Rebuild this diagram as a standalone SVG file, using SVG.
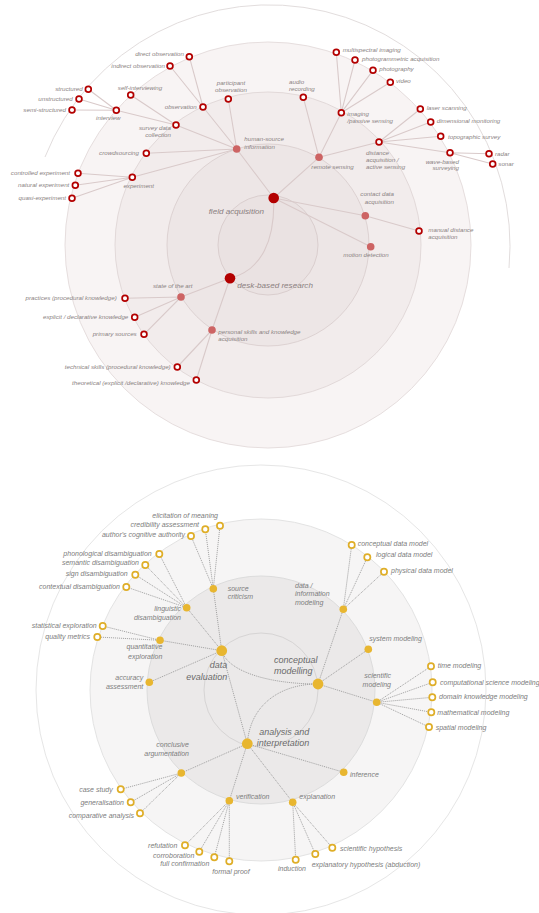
<svg xmlns="http://www.w3.org/2000/svg" width="539" height="913" viewBox="0 0 539 913">
<style>
text{font-family:"Liberation Sans",Arial,sans-serif;font-style:italic}
.t{font-size:6.2px;fill:#8a8282}
.tm{font-size:8.1px;fill:#8a8080}
.b{font-size:7px;fill:#7d7d7d}
.bm{font-size:9px;fill:#6a6a6a}
.e{text-anchor:end}
.m{text-anchor:middle}
.ct{stroke:#d9caca;stroke-width:1.1;fill:none}
.cb{stroke:#9c9c9c;stroke-width:0.9;stroke-dasharray:1.1 0.9;fill:none}
.rm{fill:#b30000}
.rs{fill:#cd6464}
.rl{fill:#fff;stroke:#b30000;stroke-width:1.7}
.ym{fill:#e8b630}
.ys{fill:#e8b630}
.yl{fill:#fff;stroke:#dfae28;stroke-width:1.7}
</style>
<rect width="539" height="913" fill="#fff"/>
<g id="rings-top">
<path d="M45,157 A241,241 0 0 1 509,268" fill="none" stroke="#e2dddd" stroke-width="1"/>
<circle cx="268" cy="245" r="203" fill="#f8f4f4" stroke="#e6dede" stroke-width="1"/>
<circle cx="268" cy="245" r="153" fill="#f2ecec" stroke="#e2d9d9" stroke-width="1"/>
<circle cx="268" cy="245" r="101" fill="#ede6e6" stroke="#ddd2d2" stroke-width="1"/>
<circle cx="268" cy="245" r="50" fill="#eae2e2" stroke="#dacece" stroke-width="1"/>
</g>
<g id="rings-bottom">
<circle cx="261" cy="690" r="225" fill="#fff" stroke="#e6e6e6" stroke-width="1"/>
<circle cx="261" cy="690" r="171" fill="#f6f5f5" stroke="#e3e3e3" stroke-width="1"/>
<circle cx="261" cy="690" r="114" fill="#ebe9e9" stroke="#dcdcdc" stroke-width="1"/>
<circle cx="261" cy="690" r="57" fill="none" stroke="#d6d4d4" stroke-width="1"/>
</g>
<g id="connectors-top">
<path class="ct" d="M273.7,198 C275,240 262,270 230,278.3"/>
<path class="ct" d="M273.7,198 L236.7,149 M273.7,198 L319,157.3 M273.7,198 L365.3,215.7 L419,231 M273.7,198 L370.7,246.7"/>
<path class="ct" d="M236.7,149 L203,107 M236.7,149 L228.3,99 M236.7,149 L176,125 M236.7,149 L146.3,153.3 M236.7,149 L132.3,177.3"/>
<path class="ct" d="M203,107 L189.3,56.7 M203,107 L170,66"/>
<path class="ct" d="M176,125 L130.7,95 M176,125 L116.3,110.3"/>
<path class="ct" d="M116.3,110.3 L88.3,89.3 M116.3,110.3 L79,99 M116.3,110.3 L72,110"/>
<path class="ct" d="M132.3,177.3 L78,173.3 M132.3,177.3 L75.3,185.3 M132.3,177.3 L72,198.3"/>
<path class="ct" d="M319,157.3 L303.3,97.3 M319,157.3 L341.3,112.7 M319,157.3 L379,142"/>
<path class="ct" d="M341.3,112.7 L336.3,52.3 M341.3,112.7 L355,60 M341.3,112.7 L373,70.3 M341.3,112.7 L390.3,82.3"/>
<path class="ct" d="M379,142 L420.3,109 M379,142 L430.7,122 M379,142 L440.7,136.3 M379,142 L450,152.7"/>
<path class="ct" d="M450,152.7 L489,153.7 M450,152.7 L492.7,164"/>
<path class="ct" d="M230,278.3 L181,297 M230,278.3 L212,330"/>
<path class="ct" d="M181,297 L125,298.3 M181,297 L134.7,317.3 M181,297 L144,334.3"/>
<path class="ct" d="M212,330 L177.3,367 M212,330 L196.3,380"/>
</g>
<g id="connectors-bottom">
<path class="cb" d="M221.7,650.7 C228,672 270,684 318,684"/>
<path class="cb" d="M318,684 C280,684 250,705 247.3,743.7"/>
<path class="cb" d="M221.7,650.7 L247.3,743.7"/>
<path class="cb" d="M221.7,650.7 L213.3,588.7 M221.7,650.7 L186.7,607.7 M221.7,650.7 L160,640.3 M221.7,650.7 L149.3,682.3"/>
<path class="cb" d="M318,684 L343.3,609.3 M318,684 L368.3,649.3 M318,684 L376.7,702.3"/>
<path class="cb" d="M247.3,743.7 L181.3,773 M247.3,743.7 L229.3,800.7 M247.3,743.7 L292.7,802.3 M247.3,743.7 L343.7,772.3"/>
<path class="cb" d="M213.3,588.7 L220,525.7 M213.3,588.7 L205.3,529.3 M213.3,588.7 L191,536"/>
<path class="cb" d="M186.7,607.7 L159.3,554 M186.7,607.7 L145.3,565 M186.7,607.7 L135.3,574.7 M186.7,607.7 L126.3,587"/>
<path class="cb" d="M160,640.3 L102.7,626 M160,640.3 L97.3,637"/>
<path class="cb" d="M343.3,609.3 L351.7,545 M343.3,609.3 L367.3,557.3 M343.3,609.3 L384,571.7"/>
<path class="cb" d="M376.7,702.3 L431,666.3 M376.7,702.3 L432.7,682.3 M376.7,702.3 L432.3,697.3 M376.7,702.3 L431.3,712.3 M376.7,702.3 L429,727"/>
<path class="cb" d="M181.3,773 L120.7,789.3 M181.3,773 L130.7,802.3 M181.3,773 L140,813.3"/>
<path class="cb" d="M229.3,800.7 L185,845.3 M229.3,800.7 L199.3,851.7 M229.3,800.7 L214.3,857.3 M229.3,800.7 L229.3,861.3"/>
<path class="cb" d="M292.7,802.3 L295.7,859.7 M292.7,802.3 L315.3,854 M292.7,802.3 L332.3,847.7"/>
</g>
<g id="field-acquisition"><circle class="rm" cx="273.7" cy="198" r="5.3"/><text class="tm m" x="236.3" y="213.5">field acquisition</text></g>
<g id="desk-based-research"><circle class="rm" cx="230" cy="278.3" r="5.3"/><text class="tm" x="237.3" y="288">desk-based research</text></g>
<g id="human-source-information"><circle class="rs" cx="236.7" cy="149" r="3.8"/><text class="t" x="244.3" y="141.3">human-source</text><text class="t" x="244.3" y="148.7">information</text></g>
<g id="remote-sensing"><circle class="rs" cx="319" cy="157.3" r="3.8"/><text class="t m" x="332.5" y="168.7">remote sensing</text></g>
<g id="contact-data-acquisition"><circle class="rs" cx="365.3" cy="215.7" r="3.8"/><text class="t e" x="394" y="196">contact data</text><text class="t e" x="394" y="203.7">acquisition</text></g>
<g id="motion-detection"><circle class="rs" cx="370.7" cy="246.7" r="3.8"/><text class="t m" x="366" y="257">motion detection</text></g>
<g id="state-of-the-art"><circle class="rs" cx="181" cy="297" r="3.8"/><text class="t m" x="172.8" y="288">state of the art</text></g>
<g id="personal-skills"><circle class="rs" cx="212" cy="330" r="3.8"/><text class="t" x="218.3" y="334">personal skills and knowledge</text><text class="t" x="218.3" y="341.3">acquisition</text></g>
<g id="observation"><circle class="rl" cx="203" cy="107" r="2.9"/><text class="t e" x="196.7" y="109">observation</text></g>
<g id="direct-observation"><circle class="rl" cx="189.3" cy="56.7" r="2.9"/><text class="t e" x="184" y="56">direct observation</text></g>
<g id="indirect-observation"><circle class="rl" cx="170" cy="66" r="2.9"/><text class="t e" x="165" y="68">indirect observation</text></g>
<g id="participant-observation"><circle class="rl" cx="228.3" cy="99" r="2.9"/><text class="t m" x="231" y="84.7">participant</text><text class="t m" x="231" y="92">observation</text></g>
<g id="survey-data-collection"><circle class="rl" cx="176" cy="125" r="2.9"/><text class="t e" x="171" y="130.3">survey data</text><text class="t e" x="171" y="137">collection</text></g>
<g id="self-interviewing"><circle class="rl" cx="130.7" cy="95" r="2.9"/><text class="t m" x="140" y="89.7">self-interviewing</text></g>
<g id="interview"><circle class="rl" cx="116.3" cy="110.3" r="2.9"/><text class="t m" x="108.3" y="119.7">interview</text></g>
<g id="structured"><circle class="rl" cx="88.3" cy="89.3" r="2.9"/><text class="t e" x="82.7" y="91.3">structured</text></g>
<g id="unstructured"><circle class="rl" cx="79" cy="99" r="2.9"/><text class="t e" x="72.7" y="101">unstructured</text></g>
<g id="semi-structured"><circle class="rl" cx="72" cy="110" r="2.9"/><text class="t e" x="66" y="112">semi-structured</text></g>
<g id="crowdsourcing"><circle class="rl" cx="146.3" cy="153.3" r="2.9"/><text class="t e" x="139" y="154.7">crowdsourcing</text></g>
<g id="experiment"><circle class="rl" cx="132.3" cy="177.3" r="2.9"/><text class="t m" x="138.7" y="188">experiment</text></g>
<g id="controlled-experiment"><circle class="rl" cx="78" cy="173.3" r="2.9"/><text class="t e" x="70" y="175.3">controlled experiment</text></g>
<g id="natural-experiment"><circle class="rl" cx="75.3" cy="185.3" r="2.9"/><text class="t e" x="69.3" y="187.3">natural experiment</text></g>
<g id="quasi-experiment"><circle class="rl" cx="72" cy="198.3" r="2.9"/><text class="t e" x="66" y="200.3">quasi-experiment</text></g>
<g id="audio-recording"><circle class="rl" cx="303.3" cy="97.3" r="2.9"/><text class="t" x="289" y="83.7">audio</text><text class="t" x="289" y="91">recording</text></g>
<g id="imaging"><circle class="rl" cx="341.3" cy="112.7" r="2.9"/><text class="t" x="347.3" y="116">imaging</text><text class="t" x="347.3" y="123">/passive sensing</text></g>
<g id="multispectral-imaging"><circle class="rl" cx="336.3" cy="52.3" r="2.9"/><text class="t" x="342.7" y="52">multispectral imaging</text></g>
<g id="photogrammetric-acquisition"><circle class="rl" cx="355" cy="60" r="2.9"/><text class="t" x="362" y="61">photogrammetric acquisition</text></g>
<g id="photography"><circle class="rl" cx="373" cy="70.3" r="2.9"/><text class="t" x="379.3" y="71.3">photography</text></g>
<g id="video"><circle class="rl" cx="390.3" cy="82.3" r="2.9"/><text class="t" x="396" y="83">video</text></g>
<g id="distance-acquisition"><circle class="rl" cx="379" cy="142" r="2.9"/><text class="t" x="366" y="155.3">distance</text><text class="t" x="366" y="162">acquisition /</text><text class="t" x="366" y="169.3">active sensing</text></g>
<g id="laser-scanning"><circle class="rl" cx="420.3" cy="109" r="2.9"/><text class="t" x="426.7" y="109.7">laser scanning</text></g>
<g id="dimensional-monitoring"><circle class="rl" cx="430.7" cy="122" r="2.9"/><text class="t" x="436.7" y="123.3">dimensional monitoring</text></g>
<g id="topographic-survey"><circle class="rl" cx="440.7" cy="136.3" r="2.9"/><text class="t" x="448" y="139">topographic survey</text></g>
<g id="wave-based-surveying"><circle class="rl" cx="450" cy="152.7" r="2.9"/><text class="t e" x="459" y="163.7">wave-based</text><text class="t e" x="459" y="170.3">surveying</text></g>
<g id="radar"><circle class="rl" cx="489" cy="153.7" r="2.9"/><text class="t" x="495" y="155.7">radar</text></g>
<g id="sonar"><circle class="rl" cx="492.7" cy="164" r="2.9"/><text class="t" x="498.3" y="166">sonar</text></g>
<g id="manual-distance-acquisition"><circle class="rl" cx="419" cy="231" r="2.9"/><text class="t" x="428.3" y="232.3">manual distance</text><text class="t" x="428.3" y="239.3">acquisition</text></g>
<g id="practices"><circle class="rl" cx="125" cy="298.3" r="2.9"/><text class="t e" x="116.7" y="300.3">practices (procedural knowledge)</text></g>
<g id="explicit-declarative"><circle class="rl" cx="134.7" cy="317.3" r="2.9"/><text class="t e" x="128.3" y="319.3">explicit / declarative knowledge</text></g>
<g id="primary-sources"><circle class="rl" cx="144" cy="334.3" r="2.9"/><text class="t e" x="136.7" y="336.3">primary sources</text></g>
<g id="technical-skills"><circle class="rl" cx="177.3" cy="367" r="2.9"/><text class="t e" x="170.7" y="369.3">technical skills (procedural knowledge)</text></g>
<g id="theoretical-knowledge"><circle class="rl" cx="196.3" cy="380" r="2.9"/><text class="t e" x="190" y="384.7">theoretical (explicit /declarative) knowledge</text></g>
<g id="data-evaluation"><circle class="ym" cx="221.7" cy="650.7" r="5.4"/><text class="bm e" x="227.3" y="668.3">data</text><text class="bm e" x="227.3" y="679.7">evaluation</text></g>
<g id="conceptual-modelling"><circle class="ym" cx="318" cy="684" r="5.4"/><text class="bm" x="274" y="663">conceptual</text><text class="bm" x="274" y="674">modelling</text></g>
<g id="analysis-interpretation"><circle class="ym" cx="247.3" cy="743.7" r="5.4"/><text class="bm e" x="309.3" y="735.3">analysis and</text><text class="bm e" x="309.3" y="745.7">interpretation</text></g>
<g id="source-criticism"><circle class="ys" cx="213.3" cy="588.7" r="3.8"/><text class="b" x="227.7" y="591.4">source</text><text class="b" x="227.7" y="599.4">criticism</text></g>
<g id="linguistic-disambiguation"><circle class="ys" cx="186.7" cy="607.7" r="3.8"/><text class="b e" x="181" y="611.4">linguistic</text><text class="b e" x="181" y="619.7">disambiguation</text></g>
<g id="quantitative-exploration"><circle class="ys" cx="160" cy="640.3" r="3.8"/><text class="b e" x="162.3" y="649.4">quantitative</text><text class="b e" x="162.3" y="659">exploration</text></g>
<g id="accuracy-assessment"><circle class="ys" cx="149.3" cy="682.3" r="3.8"/><text class="b e" x="143.3" y="680">accuracy</text><text class="b e" x="143.3" y="689">assessment</text></g>
<g id="data-information-modeling"><circle class="ys" cx="343.3" cy="609.3" r="3.8"/><text class="b" x="295" y="588">data /</text><text class="b" x="295" y="596.4">information</text><text class="b" x="295" y="604.7">modeling</text></g>
<g id="system-modeling"><circle class="ys" cx="368.3" cy="649.3" r="3.8"/><text class="b" x="369.3" y="640.7">system modeling</text></g>
<g id="scientific-modeling"><circle class="ys" cx="376.7" cy="702.3" r="3.8"/><text class="b e" x="391" y="678.4">scientific</text><text class="b e" x="391" y="687.4">modeling</text></g>
<g id="conclusive-argumentation"><circle class="ys" cx="181.3" cy="773" r="3.8"/><text class="b e" x="189" y="747.4">conclusive</text><text class="b e" x="189" y="755.7">argumentation</text></g>
<g id="verification"><circle class="ys" cx="229.3" cy="800.7" r="3.8"/><text class="b" x="236" y="799">verification</text></g>
<g id="explanation"><circle class="ys" cx="292.7" cy="802.3" r="3.8"/><text class="b" x="299.3" y="798.7">explanation</text></g>
<g id="inference"><circle class="ys" cx="343.7" cy="772.3" r="3.8"/><text class="b" x="350" y="777.4">inference</text></g>
<g id="elicitation-of-meaning"><circle class="yl" cx="220" cy="525.7" r="3.1"/><text class="b e" x="218" y="518.4">elicitation of meaning</text></g>
<g id="credibility-assessment"><circle class="yl" cx="205.3" cy="529.3" r="3.1"/><text class="b e" x="199" y="526.7">credibility assessment</text></g>
<g id="authors-cognitive-authority"><circle class="yl" cx="191" cy="536" r="3.1"/><text class="b e" x="185" y="536.7">author's cognitive authority</text></g>
<g id="phonological-disambiguation"><circle class="yl" cx="159.3" cy="554" r="3.1"/><text class="b e" x="151.7" y="555.7">phonological disambiguation</text></g>
<g id="semantic-disambiguation"><circle class="yl" cx="145.3" cy="565" r="3.1"/><text class="b e" x="139" y="565">semantic disambiguation</text></g>
<g id="sign-disambiguation"><circle class="yl" cx="135.3" cy="574.7" r="3.1"/><text class="b e" x="127.7" y="575.7">sign disambiguation</text></g>
<g id="contextual-disambiguation"><circle class="yl" cx="126.3" cy="587" r="3.1"/><text class="b e" x="120" y="589">contextual disambiguation</text></g>
<g id="statistical-exploration"><circle class="yl" cx="102.7" cy="626" r="3.1"/><text class="b e" x="96.7" y="627.7">statistical exploration</text></g>
<g id="quality-metrics"><circle class="yl" cx="97.3" cy="637" r="3.1"/><text class="b e" x="90" y="639">quality metrics</text></g>
<g id="conceptual-data-model"><circle class="yl" cx="351.7" cy="545" r="3.1"/><text class="b" x="357.7" y="545.7">conceptual data model</text></g>
<g id="logical-data-model"><circle class="yl" cx="367.3" cy="557.3" r="3.1"/><text class="b" x="376" y="556.7">logical data model</text></g>
<g id="physical-data-model"><circle class="yl" cx="384" cy="571.7" r="3.1"/><text class="b" x="391" y="573.4">physical data model</text></g>
<g id="time-modeling"><circle class="yl" cx="431" cy="666.3" r="3.1"/><text class="b" x="437.7" y="668">time modeling</text></g>
<g id="computational-science-modeling"><circle class="yl" cx="432.7" cy="682.3" r="3.1"/><text class="b" x="440" y="684.7">computational science modeling</text></g>
<g id="domain-knowledge-modeling"><circle class="yl" cx="432.3" cy="697.3" r="3.1"/><text class="b" x="439" y="699.4">domain knowledge modeling</text></g>
<g id="mathematical-modeling"><circle class="yl" cx="431.3" cy="712.3" r="3.1"/><text class="b" x="437.3" y="714.7">mathematical modeling</text></g>
<g id="spatial-modeling"><circle class="yl" cx="429" cy="727" r="3.1"/><text class="b" x="435.7" y="730.4">spatial modeling</text></g>
<g id="case-study"><circle class="yl" cx="120.7" cy="789.3" r="3.1"/><text class="b e" x="112.7" y="791.7">case study</text></g>
<g id="generalisation"><circle class="yl" cx="130.7" cy="802.3" r="3.1"/><text class="b e" x="124" y="805">generalisation</text></g>
<g id="comparative-analysis"><circle class="yl" cx="140" cy="813.3" r="3.1"/><text class="b e" x="134" y="817.7">comparative analysis</text></g>
<g id="refutation"><circle class="yl" cx="185" cy="845.3" r="3.1"/><text class="b e" x="177.3" y="848.4">refutation</text></g>
<g id="corroboration"><circle class="yl" cx="199.3" cy="851.7" r="3.1"/><text class="b e" x="194.3" y="858">corroboration</text></g>
<g id="full-confirmation"><circle class="yl" cx="214.3" cy="857.3" r="3.1"/><text class="b e" x="209.3" y="866.4">full confirmation</text></g>
<g id="formal-proof"><circle class="yl" cx="229.3" cy="861.3" r="3.1"/><text class="b m" x="231" y="874.4">formal proof</text></g>
<g id="induction"><circle class="yl" cx="295.7" cy="859.7" r="3.1"/><text class="b m" x="292" y="871">induction</text></g>
<g id="explanatory-hypothesis"><circle class="yl" cx="315.3" cy="854" r="3.1"/><text class="b" x="311.7" y="866.7">explanatory hypothesis (abduction)</text></g>
<g id="scientific-hypothesis"><circle class="yl" cx="332.3" cy="847.7" r="3.1"/><text class="b" x="340" y="850.7">scientific hypothesis</text></g>
</svg>
